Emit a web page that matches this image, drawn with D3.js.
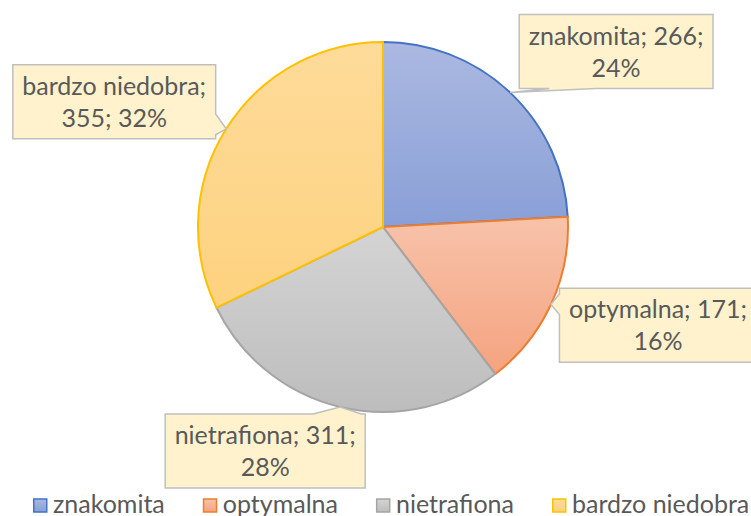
<!DOCTYPE html>
<html lang="pl">
<head>
<meta charset="UTF-8">
<title>Wykres kołowy</title>
<script src="https://d3js.org/d3.v7.min.js"></script>
<style>
  body { margin: 0; background: #fff; }
  svg { display: block; font-family: Lato, "Open Sans", sans-serif; }
</style>
</head>
<body>
<div id="chart"></div>
<script>
// dane
const categories = ["znakomita", "optymalna", "nietrafiona", "bardzo niedobra"];
const counts = [266, 171, 311, 355];

// kolory (obramowanie + gradient wypełnienia)
const strokeColors = ["#4472c4", "#ed7d31", "#a5a5a5", "#ffc000"];
const fillTop = ["#abb9e1", "#f7c3aa", "#d4d4d4", "#fedb9a"];
const fillBottom = ["#899fd7", "#f5a37f", "#bdbdbd", "#fdd27f"];

// przesunięcie środka etykiety względem punktu na obwodzie
const labelShift = [[106, -41], [107, 21], [-75, 44], [-112, -27]];

const width = 751, height = 516;
const cx = 383, cy = 227, radius = 185;
const fontSize = 25;
const textColor = "#595959";

const data = categories.map((c, i) => ({ name: c, value: counts[i], i }));
const total = d3.sum(counts);
const pct = d3.format(".0%");

const svg = d3.select("#chart").append("svg")
    .attr("width", width)
    .attr("height", height);

const defs = svg.append("defs");
data.forEach(d => {
    const g = defs.append("linearGradient")
        .attr("id", "grad" + d.i)
        .attr("x1", 0).attr("y1", 0).attr("x2", 0).attr("y2", 1);
    g.append("stop").attr("offset", "0%").attr("stop-color", fillTop[d.i]);
    g.append("stop").attr("offset", "100%").attr("stop-color", fillBottom[d.i]);
});

const pie = d3.pie().sort(null).value(d => d.value);
const arc = d3.arc().innerRadius(0).outerRadius(radius);
const edge = d3.arc().innerRadius(radius).outerRadius(radius);
const arcs = pie(data);

const g = svg.append("g").attr("transform", `translate(${cx},${cy})`);

g.selectAll("path.slice")
    .data(arcs)
    .enter()
    .append("path")
    .attr("class", "slice")
    .attr("d", arc)
    .attr("fill", d => `url(#grad${d.data.i})`)
    .attr("stroke", d => strokeColors[d.data.i])
    .attr("stroke-width", 2)
    .attr("stroke-linejoin", "round");

// etykiety danych w dymkach
function wrap(words, maxW, measure) {
    const lines = [];
    let cur = "";
    words.forEach(w => {
        const test = cur ? cur + " " + w : w;
        if (cur && measure(test) > maxW) {
            lines.push(cur);
            cur = w;
        } else {
            cur = test;
        }
    });
    if (cur) lines.push(cur);
    return lines;
}

const probe = svg.append("text").style("font-size", fontSize + "px");
const measure = s => { probe.text(s); return probe.node().getComputedTextLength(); };

function calloutPath(x0, y0, w, h, tip) {
    const x1 = x0 + w, y1 = y0 + h;
    const bx = x0 + w / 2, by = y0 + h / 2;
    const nx = (tip[0] - bx) / (w / 2), ny = (tip[1] - by) / (h / 2);
    const clamp = (v, a, b) => Math.max(a, Math.min(b, v));
    let side, p = [];
    if (Math.abs(nx) > Math.abs(ny)) {
        side = nx < 0 ? "left" : "right";
        const half = h * 0.14;
        const c = clamp(tip[1], y0 + half + 4, y1 - half - 4);
        p = [c - half, c + half];
    } else {
        side = ny < 0 ? "top" : "bottom";
        const half = w * 0.12;
        const c = clamp(tip[0], x0 + half + 30, x1 - half - 4);
        p = [c - half, c + half];
    }
    const t = `${tip[0]},${tip[1]}`;
    let d = `M${x0},${y0}`;
    if (side === "top") d += `L${p[0]},${y0}L${t}L${p[1]},${y0}`;
    d += `L${x1},${y0}`;
    if (side === "right") d += `L${x1},${p[0]}L${t}L${x1},${p[1]}`;
    d += `L${x1},${y1}`;
    if (side === "bottom") d += `L${p[1]},${y1}L${t}L${p[0]},${y1}`;
    d += `L${x0},${y1}`;
    if (side === "left") d += `L${x0},${p[1]}L${t}L${x0},${p[0]}`;
    return d + "Z";
}

const labels = svg.append("g").attr("class", "labels");
arcs.forEach(a => {
    const d = a.data;
    const tipLocal = edge.centroid(a);
    const tip = [tipLocal[0] + cx, tipLocal[1] + cy];
    const center = [tip[0] + labelShift[d.i][0], tip[1] + labelShift[d.i][1]];
    const words = `${d.name}; ${d.value}; ${pct(d.value / total)}`.split(" ");
    const lines = wrap(words, 200, measure);
    const boxW = d3.max(lines, measure) + 19;
    const boxH = 74;
    const x0 = center[0] - boxW / 2, y0 = center[1] - boxH / 2;

    labels.append("path")
        .attr("d", calloutPath(x0, y0, boxW, boxH, tip))
        .attr("fill", "#fff2cc")
        .attr("stroke", "#bfbfbf")
        .attr("stroke-width", 1.5);

    const txt = labels.append("text")
        .attr("text-anchor", "middle")
        .attr("fill", textColor)
        .style("font-size", fontSize + "px");
    lines.forEach((l, k) => {
        txt.append("tspan")
            .attr("x", center[0])
            .attr("y", center[1] - 7 + k * 32)
            .text(l);
    });
});

// legenda
const legend = svg.append("g").attr("class", "legend");
let lx = 33;
data.forEach(d => {
    const item = legend.append("g").attr("transform", `translate(${lx},0)`);
    item.append("rect")
        .attr("x", 0.75).attr("y", 499)
        .attr("width", 13).attr("height", 13)
        .attr("fill", `url(#grad${d.i})`)
        .attr("stroke", strokeColors[d.i])
        .attr("stroke-width", 1.5);
    const t = item.append("text")
        .attr("x", 20)
        .attr("y", 513)
        .attr("fill", textColor)
        .style("font-size", fontSize + "px")
        .text(d.name);
    lx += 20 + t.node().getComputedTextLength() + 38;
});

probe.remove();
</script>
</body>
</html>
